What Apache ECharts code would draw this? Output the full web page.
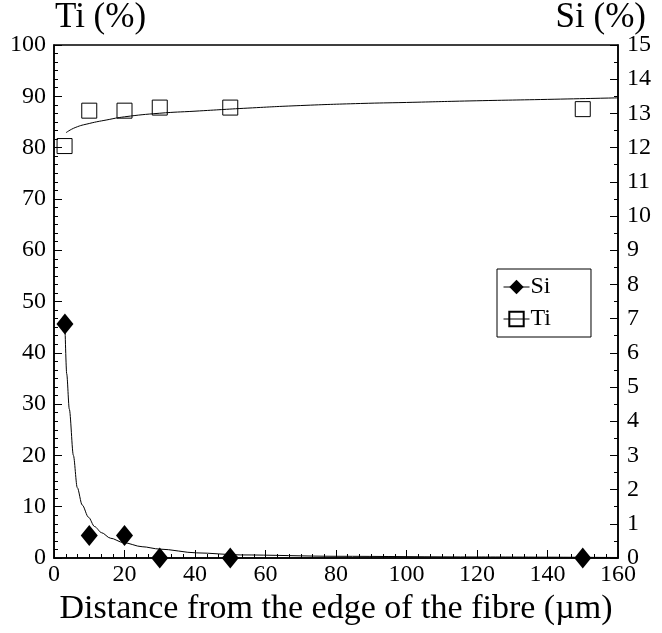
<!DOCTYPE html>
<html lang="en">
<head>
    <meta charset="UTF-8">
    <title>Ti / Si profile</title>
    <script src="https://cdn.jsdelivr.net/npm/echarts@6/dist/echarts.min.js"></script>
    <style>
        html, body { margin: 0; padding: 0; background: #fff; }
        #main { width: 662px; height: 633px; }
    </style>
</head>
<body>
<div id="main"></div>
<script type="text/javascript">
    // measured points (distance in µm)
    var tiX = [3, 10, 20, 30, 50, 150];
    var tiY = [80.3, 87.2, 87.2, 87.8, 87.8, 87.5];
    var siX = [3.1, 10, 20, 30, 50, 150];
    var siY = [6.84, 0.66, 0.66, 0, 0, 0];

    // fitted curves
    var tiFitX = [3.4, 6, 10, 15, 20, 30, 40, 55, 70, 87, 100, 118, 140, 160];
    var tiFitY = [82.9, 83.9, 84.7, 85.4, 86.0, 86.7, 87.1, 87.7, 88.2, 88.6, 88.8, 89.1, 89.4, 89.7];
    var siFitX = [3.1, 3.6, 4.35, 5.5, 6.6, 8, 9.8, 11.5, 13.5, 16, 19.7, 25, 30, 40.5, 53, 80, 120, 160];
    var siFitY = [6.84, 5.39, 4.35, 3.0, 2.06, 1.55, 1.19, 0.92, 0.74, 0.58, 0.45, 0.33, 0.26, 0.15, 0.09, 0.05, 0.03, 0.015];

    function pairs(xs, ys) {
        var out = [];
        for (var i = 0; i < xs.length; i++) {
            out.push([xs[i], ys[i]]);
        }
        return out;
    }

    var serif = 'Liberation Serif';
    var axisLine = { show: true, lineStyle: { color: '#000', width: 1.5 } };

    var myChart = echarts.init(document.getElementById('main'));
    myChart.setOption({
        backgroundColor: '#fff',
        animation: false,
        textStyle: { fontFamily: serif, color: '#000' },
        grid: {
            left: 54, right: 44, top: 45, bottom: 75,
            show: true, borderColor: '#000', borderWidth: 1.5
        },
        legend: {
            orient: 'vertical',
            left: 497, top: 269,
            padding: [6, 40, 6, 6],
            itemGap: 8,
            itemWidth: 26, itemHeight: 18,
            borderColor: '#000', borderWidth: 1,
            backgroundColor: '#fff',
            textStyle: { fontFamily: serif, fontSize: 24, color: '#000', padding: [0, 0, 0, -4] },
            data: [
                { name: 'Si', lineStyle: { width: 1, color: '#000', opacity: 1 } },
                { name: 'Ti', lineStyle: { width: 1, color: '#000', opacity: 1 } }
            ]
        },
        graphic: [
            { type: 'text', left: 55, top: 0,
              style: { text: 'Ti (%)', font: '35px "Liberation Serif"', fill: '#000' } },
            { type: 'text', right: 16, top: 0,
              style: { text: 'Si (%)', font: '35px "Liberation Serif"', fill: '#000' } }
        ],
        xAxis: {
            type: 'value', min: 0, max: 160, interval: 20,
            name: 'Distance from the edge of the fibre (µm)',
            nameLocation: 'middle', nameGap: 26,
            nameTextStyle: { fontFamily: serif, fontSize: 34, color: '#000', verticalAlign: 'top' },
            axisLine: axisLine,
            axisTick: { inside: true, length: 8, lineStyle: { color: '#000', width: 1 } },
            minorTick: { show: true, splitNumber: 6, length: 4, lineStyle: { color: '#000' } },
            axisLabel: { fontFamily: serif, fontSize: 24, color: '#000', margin: 5 },
            splitLine: { show: false }
        },
        yAxis: [
            {
                type: 'value', min: 0, max: 100, interval: 10, position: 'left',
                axisLine: axisLine,
                axisTick: { inside: true, length: 8, lineStyle: { color: '#000', width: 1 } },
                minorTick: { show: true, splitNumber: 6, length: 4, lineStyle: { color: '#000' } },
                axisLabel: { fontFamily: serif, fontSize: 24, color: '#000', margin: 8 },
                splitLine: { show: false }
            },
            {
                type: 'value', min: 0, max: 15, interval: 1, position: 'right',
                axisLine: axisLine,
                axisTick: { inside: true, length: 8, lineStyle: { color: '#000', width: 1 } },
                minorTick: { show: true, splitNumber: 2, length: 4, lineStyle: { color: '#000' } },
                axisLabel: { fontFamily: serif, fontSize: 24, color: '#000', margin: 9 },
                splitLine: { show: false }
            }
        ],
        series: [
            {
                name: 'Si fit', type: 'line', yAxisIndex: 1,
                showSymbol: false, smooth: 0.3, smoothMonotone: 'x', silent: true,
                lineStyle: { color: '#000', width: 1 },
                data: pairs(siFitX, siFitY)
            },
            {
                name: 'Ti fit', type: 'line', yAxisIndex: 0,
                showSymbol: false, smooth: true, silent: true,
                lineStyle: { color: '#000', width: 1 },
                data: pairs(tiFitX, tiFitY)
            },
            {
                name: 'Si', type: 'line', yAxisIndex: 1,
                symbol: 'diamond', symbolSize: [17, 21],
                lineStyle: { width: 0, opacity: 0 },
                itemStyle: { color: '#000' },
                z: 5,
                data: pairs(siX, siY)
            },
            {
                name: 'Ti', type: 'line', yAxisIndex: 0,
                symbol: 'rect', symbolSize: 15,
                lineStyle: { width: 0, opacity: 0 },
                itemStyle: { color: 'rgba(255,255,255,0)', borderColor: '#000', borderWidth: 1 },
                z: 5,
                data: pairs(tiX, tiY)
            }
        ]
    });
</script>
</body>
</html>
